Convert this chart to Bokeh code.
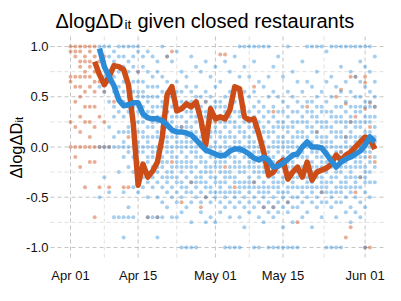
import math
import pandas as pd
from bokeh.plotting import figure
from bokeh.models import Range1d
from bokeh.core.properties import value
from bokeh.embed import file_html
from bokeh.resources import INLINE

# ---------------- data (day offsets from 2020-04-01; dot values in hundredths) ----------------
first_day = "2020-04-01"
x_tick_days = [0, 14, 30, 44, 61]
x_minor_days = [7, 22, 37, 52.5]
y_ticks = [-1.0, -0.5, 0.0, 0.5, 1.0]
y_minor = [-0.75, -0.25, 0.25, 0.75]

title_main = "ΔlogΔD"
title_sub = "it"
title_rest = "given closed restaurants"
ylab_main = "ΔlogΔD"
ylab_sub = "it"

orange_line_start = 5
orange_line = [0.85, 0.72, 0.62, 0.70, 0.81, 0.80, 0.77, 0.62, 0.23, -0.38,
               -0.17, -0.30, -0.24, -0.15, 0.10, 0.52, 0.60, 0.36, 0.38, 0.43,
               0.40, 0.45, 0.27, 0.02, 0.38, 0.28, 0.30, 0.28, 0.37, 0.60,
               0.58, 0.30, 0.27, 0.28, 0.13, -0.05, -0.28, -0.25, -0.17, -0.13,
               -0.32, -0.25, -0.20, -0.30, -0.15, -0.33, -0.25, -0.23, -0.21, -0.17,
               -0.08, -0.13, -0.08, -0.05, 0.00, 0.05, 0.10, 0.08, -0.02]

blue_line_start = 6
blue_line = [0.98, 0.80, 0.70, 0.61, 0.47, 0.41, 0.42, 0.44, 0.44, 0.33,
             0.29, 0.28, 0.28, 0.26, 0.22, 0.17, 0.15, 0.15, 0.14, 0.12,
             0.07, 0.02, -0.03, -0.05, -0.07, -0.09, -0.08, -0.04, -0.02, -0.02,
             -0.04, -0.07, -0.11, -0.13, -0.10, -0.13, -0.20, -0.19, -0.16, -0.12,
             -0.08, -0.07, 0.00, 0.05, 0.00, 0.00, -0.01, -0.07, -0.14, -0.20,
             -0.15, -0.12, -0.10, -0.07, -0.04, 0.02, 0.10, 0.05]

orange_pts_start = 0
orange_pts = [
    [100, 95, 70, 65, 25, 0],
    [100, 95, 90, 70, 60, 45, 20, 0, -10],
    [100, 95, 85, 80, 70, 60, 50, 30, 15, 0, -20],
    [100, 90, 85, 75, 70, 55, 40, 25, 0, -40],
    [100, 95, 85, 80, 70, 60, 40, 25, 10, 0, -15],
    [100, 90, 75, 65, 55, 40, 20, 0, -15, -70],
    [95, 85, 65, 30, 0, -40],
    [90, 55, 25, 0],
    [0, -40],
    [45],
    [],
    [-40],
    [10, -40],
    [],
    [75],
    [],
    [-70],
    [],
    [-70],
    [],
    [90, 35],
    [95, -15],
    [],
    [20, -55],
    [],
    [-35],
    [],
    [-60],
    [-50, 45],
    [],
    [25],
    [92],
    [92, -20],
    [],
    [-40],
    [],
    [30],
    [],
    [-35, 60],
    [],
    [-60],
    [],
    [-60, 35],
    [],
    [-15],
    [-55],
    [],
    [-75],
    [],
    [40],
    [],
    [15],
    [-45],
    [-20],
    [],
    [-20, 50],
    [57, -5],
    [43, -90, 10],
    [70, -80, 25],
    [70, 30, -45],
    [5, -30],
    [70, 64, 38, -100],
    [44, 20, -100, -10],
    [40, 0, -15],
]

blue_pts_start = 6
blue_pts = [
    [100, 95, 60, 0, -50],
    [100, 85, 70, 55, 0, -30],
    [100, 90, 75, 65, 45, 20, 0, -45],
    [95, 85, 70, 55, 40, 30, 10, 0, -70],
    [100, 90, 75, 60, 45, 35, 15, 0, -25, -70],
    [100, 90, 80, 65, 55, 45, 30, 15, 5, 0, -10, -45, -70, -90],
    [100, 85, 75, 60, 50, 40, 35, 20, 15, 0, -5, -20, -60, -70],
    [100, 90, 80, 65, 55, 45, 40, 30, 20, 10, 0, -10, -25, -40, -70],
    [100, 95, 75, 65, 55, 50, 40, 35, 25, 15, 5, 0, -5, -15, -30, -45],
    [90, 80, 65, 55, 50, 40, 30, 25, 15, 10, 0, -5, -20, -30, -40],
    [95, 75, 60, 50, 45, 35, 30, 20, 10, 5, 0, -10, -15, -25, -35, -50, -70],
    [90, 70, 60, 50, 40, 35, 25, 20, 10, 0, -5, -10, -20, -30, -40, -70],
    [85, 75, 60, 50, 40, 30, 25, 15, 10, 0, -5, -15, -20, -25, -35, -50, -70, -90],
    [100, 70, 55, 45, 40, 30, 20, 15, 5, 0, -10, -15, -20, -30, -40, -55, -70],
    [90, 65, 55, 45, 35, 25, 20, 10, 5, 0, -5, -15, -25, -30, -35, -45, -60],
    [85, 60, 50, 40, 30, 25, 15, 10, 0, -5, -10, -20, -25, -30, -40, -50, -70],
    [95, 65, 55, 45, 35, 30, 20, 10, 5, 0, -10, -15, -20, -30, -35, -45, -55, -70],
    [75, 55, 45, 40, 30, 20, 15, 5, 0, -5, -15, -20, -25, -35, -40, -50, -65, -100],
    [70, 60, 45, 35, 25, 20, 10, 5, 0, -10, -15, -20, -30, -40, -45, -60, -100],
    [90, 55, 45, 35, 30, 20, 15, 5, 0, -5, -15, -20, -25, -35, -45, -55, -75, -100],
    [80, 60, 50, 40, 30, 25, 15, 10, 0, -5, -10, -20, -30, -35, -40, -50, -100],
    [75, 50, 40, 35, 25, 20, 10, 5, 0, -10, -15, -25, -30, -35, -45, -55, -65],
    [85, 55, 45, 35, 30, 20, 15, 5, 0, -5, -15, -20, -25, -35, -40, -50, -75],
    [70, 50, 40, 30, 25, 15, 10, 0, -5, -10, -20, -25, -30, -40, -45, -55, -70],
    [80, 60, 45, 40, 30, 20, 15, 5, 0, -10, -15, -20, -30, -35, -45, -50, -75],
    [65, 45, 40, 30, 25, 15, 10, 0, -5, -15, -20, -25, -35, -40, -45, -55, -65],
    [85, 50, 40, 35, 25, 20, 10, 5, 0, -10, -15, -25, -30, -35, -45, -50, -60, -100],
    [75, 55, 40, 30, 25, 15, 10, 0, -5, -10, -20, -25, -30, -40, -45, -55, -70, -100],
    [90, 60, 45, 35, 25, 20, 10, 5, 0, -10, -15, -20, -30, -35, -45, -50, -60, -100],
    [100, 70, 50, 35, 30, 20, 15, 5, 0, -5, -15, -20, -25, -35, -40, -45, -55, -70, -100],
    [100, 80, 55, 40, 30, 25, 15, 10, 0, -5, -10, -20, -25, -35, -40, -50, -60, -80],
    [100, 70, 50, 35, 25, 20, 10, 5, 0, -10, -15, -20, -30, -35, -40, -45, -55, -65],
    [100, 85, 55, 40, 30, 20, 15, 5, 0, -5, -15, -20, -25, -35, -40, -50, -60, -100],
    [100, 65, 45, 35, 25, 15, 10, 0, -5, -10, -20, -25, -30, -40, -45, -55, -70, -100],
    [100, 60, 40, 30, 20, 15, 5, 0, -5, -15, -20, -25, -35, -40, -45, -50, -60, -75],
    [100, 70, 50, 35, 25, 15, 10, 0, -5, -10, -20, -25, -30, -40, -45, -55, -65, -100],
    [80, 55, 40, 30, 20, 15, 5, 0, -10, -15, -20, -30, -35, -40, -50, -60, -70, -100],
    [90, 50, 35, 25, 20, 10, 5, 0, -5, -15, -20, -25, -35, -40, -45, -55, -65, -100],
    [70, 45, 35, 25, 20, 10, 5, 0, -10, -15, -20, -30, -35, -45, -50, -60, -80, -100],
    [100, 55, 40, 30, 20, 15, 5, 0, -5, -15, -20, -25, -30, -40, -45, -55, -65, -100],
    [75, 50, 35, 25, 20, 10, 5, 0, -10, -15, -20, -30, -35, -40, -50, -60, -75, -100],
    [65, 45, 35, 25, 15, 10, 0, -5, -10, -20, -25, -30, -40, -50, -60, -100],
    [85, 55, 40, 30, 25, 15, 10, 0, -5, -10, -20, -25, -30, -40, -45, -55, -70],
    [100, 65, 45, 35, 25, 20, 10, 5, 0, -10, -15, -20, -30, -35, -40, -50, -65],
    [100, 60, 45, 35, 30, 20, 15, 5, 0, -5, -15, -20, -25, -35, -40, -45, -55, -80],
    [100, 75, 50, 40, 30, 25, 15, 10, 0, -5, -10, -20, -25, -30, -40, -50, -60],
    [100, 55, 40, 35, 25, 20, 10, 5, 0, -10, -15, -20, -30, -35, -40, -45, -55, -70],
    [95, 65, 45, 35, 25, 20, 10, 5, 0, -5, -15, -20, -25, -35, -40, -45, -55, -100],
    [100, 70, 50, 35, 30, 20, 15, 5, 0, -10, -15, -20, -30, -35, -45, -50, -60, -100],
    [100, 60, 40, 30, 25, 15, 10, 0, -5, -10, -20, -25, -30, -40, -45, -55, -70, -100],
    [100, 80, 55, 40, 30, 25, 15, 10, 0, -5, -15, -20, -25, -35, -40, -45, -55, -100],
    [100, 65, 45, 35, 25, 20, 10, 5, 0, -10, -15, -20, -30, -35, -40, -50, -65],
    [100, 75, 55, 40, 30, 25, 15, 10, 0, -5, -10, -20, -25, -30, -40, -45, -60, -75],
    [100, 70, 50, 40, 35, 25, 20, 10, 5, 0, -10, -15, -20, -30, -35, -40, -50, -65],
    [100, 85, 65, 50, 40, 35, 25, 20, 10, 5, 0, -10, -15, -20, -30, -40, -55, -70],
    [100, 80, 60, 45, 40, 30, 25, 15, 10, 0, -5, -10, -20, -25, -30, -35, -45, -60, -100],
    [100, 75, 55, 45, 40, 30, 25, 15, 10, 0, -5, -15, -25, -35, -50],
    [90, 65, 50, 40, 30, 20, 10, 5, 0, -10, -20, -35],
]

# ---------------- helpers ----------------
DAY = 86400000.0
BASE = pd.Timestamp(first_day).value / 1e6
W, H = 385, 285
PANEL_L, PANEL_T, PANEL_B = 50, 36, 257   # panel edges in canvas pixels
APR1_PX = 70
PX_PER_DAY = 4.83
Y_TOP, Y_BOT = 1.1, -1.1
K = (PANEL_B - PANEL_T) / (Y_TOP - Y_BOT)


def t(d):
    return BASE + d * DAY


def px_x(px):   # canvas pixel -> data x
    return t((px - APR1_PX) / PX_PER_DAY)


def px_y(py):   # canvas pixel -> data y
    return Y_TOP - (py - PANEL_T) / K


def expand(start, cols):
    xs, ys = [], []
    for i, vals in enumerate(cols):
        for v in vals:
            xs.append(t(start + i))
            ys.append(v / 100.0)
    return xs, ys


BLUE = "#2b8bd6"
ORANGE = "#cc4d17"
FONT = "Liberation Sans"
x_left, x_right = px_x(PANEL_L), px_x(W)

p = figure(width=W, height=H,
           x_range=Range1d(px_x(0), px_x(W)),
           y_range=Range1d(px_y(H), px_y(0)),
           x_axis_type=None, y_axis_type=None,
           output_backend="svg", toolbar_location=None, title=None,
           min_border_left=0, min_border_right=0, min_border_top=0, min_border_bottom=0)
p.outline_line_color = None
p.background_fill_color = "white"
p.border_fill_color = "white"

# grid
xmaj = [t(d) for d in x_tick_days]
xmin = [t(d) for d in x_minor_days]
p.segment(xmin, [Y_BOT] * len(xmin), xmin, [Y_TOP] * len(xmin),
          line_color="#e0e0e0", line_width=1, line_dash="4 3")
p.segment([x_left] * len(y_minor), y_minor, [x_right] * len(y_minor), y_minor,
          line_color="#e0e0e0", line_width=1, line_dash="4 3")
p.segment(xmaj, [Y_BOT] * len(xmaj), xmaj, [Y_TOP] * len(xmaj),
          line_color="#c4c4c4", line_width=1, line_dash="4 3")
p.segment([x_left] * len(y_ticks), y_ticks, [x_right] * len(y_ticks), y_ticks,
          line_color="#c4c4c4", line_width=1, line_dash="4 3")

# dots
ox, oy = expand(orange_pts_start, orange_pts)
bx, by = expand(blue_pts_start, blue_pts)
p.scatter(ox, oy, size=4.0, fill_color=ORANGE, fill_alpha=0.45, line_color=None)
p.scatter(bx, by, size=4.0, fill_color=BLUE, fill_alpha=0.42, line_color=None)

# lines
p.line([t(orange_line_start + i) for i in range(len(orange_line))], orange_line,
       line_color=ORANGE, line_width=5.5, line_join="round")
p.line([t(blue_line_start + i) for i in range(len(blue_line))], blue_line,
       line_color=BLUE, line_width=5.5, line_join="round")

# tick labels
x_labels = [(pd.Timestamp(first_day) + pd.Timedelta(days=d)).strftime("%b %d") for d in x_tick_days]
p.text(xmaj, [px_y(275)] * len(xmaj), text=x_labels, text_font=value(FONT),
       text_font_size=value("13px"), text_color="#111111", text_align="center",
       text_baseline="alphabetic")
p.text([px_x(48)] * len(y_ticks), y_ticks, text=[f"{v:.1f}" for v in y_ticks],
       text_font=value(FONT), text_font_size=value("13px"), text_color="#111111",
       text_align="right", text_baseline="middle")

# title with subscript
tb = 20
p.text([px_x(55)], [px_y(tb)], text=[title_main], text_font=value(FONT),
       text_font_size=value("20px"), text_color="#000000", text_align="left",
       text_baseline="alphabetic")
p.text([px_x(124)], [px_y(tb + 4)], text=[title_sub], text_font=value(FONT),
       text_font_size=value("13.5px"), text_color="#000000", text_align="left",
       text_baseline="alphabetic")
p.text([px_x(137)], [px_y(tb)], text=[title_rest], text_font=value(FONT),
       text_font_size=value("20px"), text_color="#000000", text_align="left",
       text_baseline="alphabetic")

# rotated y-axis title with subscript (reads bottom to top)
yb = 15
p.text([px_x(yb)], [px_y(178)], text=[ylab_main], text_font=value(FONT),
       text_font_size=value("16.5px"), text_color="#000000", text_align="left",
       text_baseline="alphabetic", angle=math.pi / 2, angle_units="rad")
p.text([px_x(yb + 3.5)], [px_y(178 - 56)], text=[ylab_sub], text_font=value(FONT),
       text_font_size=value("11.5px"), text_color="#000000", text_align="left",
       text_baseline="alphabetic", angle=math.pi / 2, angle_units="rad")

open("out.html", "w").write(file_html(p, INLINE))
